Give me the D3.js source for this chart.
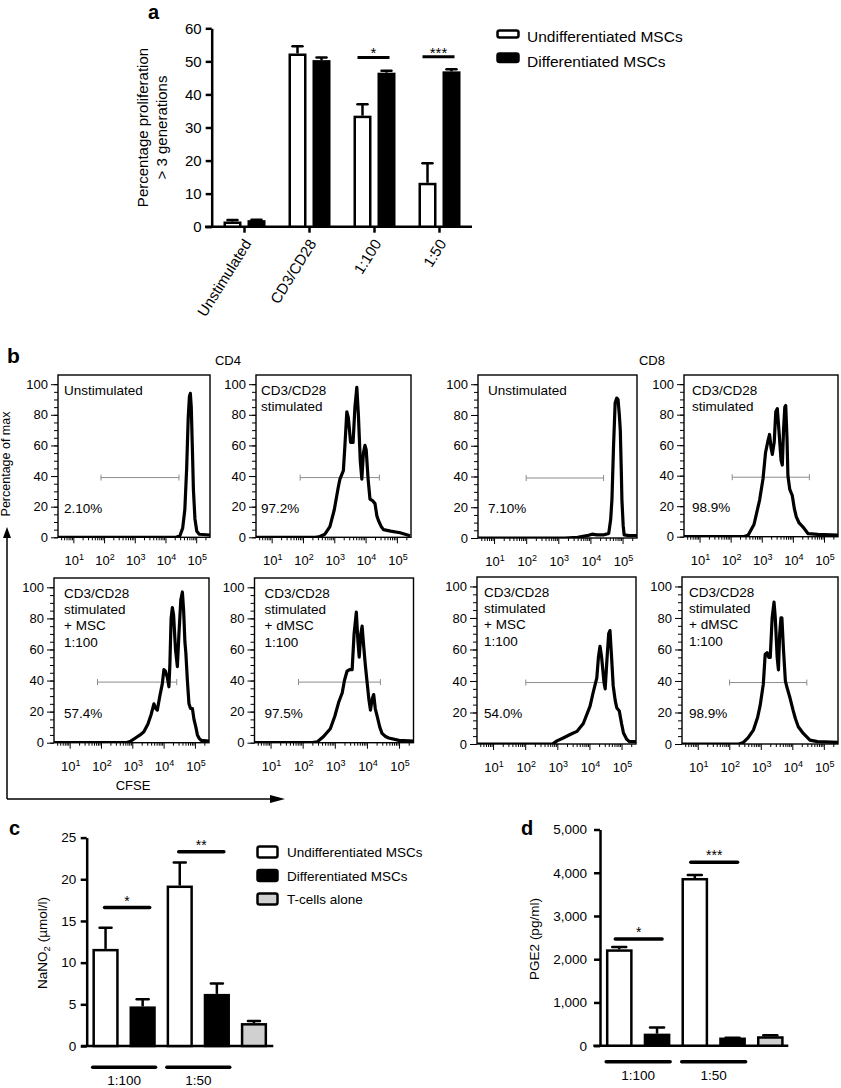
<!DOCTYPE html>
<html><head><meta charset="utf-8">
<script src="https://cdn.jsdelivr.net/npm/d3@7"></script>
<style>body{margin:0;background:#fff} svg{display:block} text{font-family:"Liberation Sans",Arial,Helvetica,sans-serif;fill:#000}</style>
</head><body><svg id="chart" width="841" height="1088"></svg>
<script>
// ---------------- DATA ----------------
// Panel a
const catsA = ["Unstimulated", "CD3/CD28", "1:100", "1:50"];
const seriesA = ["Undifferentiated MSCs", "Differentiated MSCs"];
const undiffA = [1.2, 52.0, 33.2, 12.9];
const undiffErrA = [0.8, 2.6, 3.8, 6.3];
const diffA = [1.6, 50.0, 46.2, 46.6];
const diffErrA = [0.5, 1.2, 1.0, 1.0];
const ticksA = [0, 10, 20, 30, 40, 50, 60];
const sigA = [{cat: "1:100", label: "*", y: 51.2}, {cat: "1:50", label: "***", y: 51.4}];

// Panel b (x in log10 CFSE units, y in % of max)
const histCD4Unstim = [[0.5,0],[4.35,0],[4.47,1],[4.56,6],[4.63,18],[4.69,45],[4.74,78],[4.78,92],[4.81,94],[4.84,85],[4.88,55],[4.91,31],[4.96,12],[5.02,4],[5.1,2],[5.45,1.5]];
const histCD4Stim = [[0.5,0],[2.4,0],[2.54,0.5],[2.7,2],[2.86,7],[3.0,18],[3.13,33],[3.18,38],[3.29,43.5],[3.34,60],[3.40,82],[3.45,78],[3.52,62],[3.60,62],[3.66,85],[3.72,98],[3.77,80],[3.83,50],[3.88,38],[3.93,55],[3.98,60],[4.02,57],[4.08,38],[4.14,25],[4.22,24],[4.30,22],[4.36,14],[4.41,11],[4.5,7],[4.57,5],[4.8,4],[5.1,3],[5.42,1]];
const histCD8Unstim = [[0.5,0],[3.2,0],[3.6,0.5],[3.9,1.5],[4.05,2.5],[4.2,2],[4.4,2],[4.57,3],[4.63,12],[4.67,25],[4.72,60],[4.77,88],[4.82,91],[4.86,90],[4.9,80],[4.93,70],[4.96,45],[4.98,25],[5.02,8],[5.05,2],[5.2,1.5],[5.45,1.5]];
const histCD8Stim = [[0.5,0],[2.4,0],[2.56,1],[2.75,8],[2.93,24],[3.04,38],[3.12,55],[3.2,63],[3.25,67],[3.3,58],[3.34,54],[3.4,62],[3.45,82],[3.50,84],[3.55,70],[3.62,50],[3.66,47],[3.7,70],[3.74,85],[3.77,86],[3.81,65],[3.84,40],[3.9,31],[3.98,27],[4.05,18],[4.11,13],[4.2,9],[4.32,6.5],[4.49,2],[4.8,1.5],[5.45,1]];
const histCD4MSC = [[0.5,0],[2.8,0],[2.95,1],[3.1,3],[3.25,5],[3.37,7],[3.5,12],[3.6,18],[3.69,25],[3.75,22],[3.8,21],[3.88,30],[3.96,38],[4.01,47],[4.06,46],[4.12,42],[4.17,36],[4.2,50],[4.24,80],[4.28,87],[4.32,82],[4.38,60],[4.44,49],[4.49,70],[4.55,92],[4.60,97],[4.64,85],[4.68,65],[4.71,58],[4.76,40],[4.81,25],[4.86,22],[4.92,22],[4.97,15],[5.03,10],[5.08,5],[5.13,3],[5.2,1.5],[5.45,1]];
const histCD4dMSC = [[0.5,0],[2.3,0],[2.45,0.5],[2.65,4],[2.86,9],[3.0,17],[3.12,26],[3.23,32],[3.3,40],[3.38,46],[3.46,47],[3.54,47],[3.6,70],[3.67,84],[3.72,65],[3.76,55],[3.81,70],[3.85,75],[3.9,62],[3.95,50],[4.01,38],[4.06,28],[4.11,21],[4.16,28],[4.21,31],[4.26,22],[4.32,17],[4.4,10],[4.47,6],[4.58,4],[4.68,3],[5.0,1.5],[5.45,1]];
const histCD8MSC = [[0.5,0],[2.85,0],[2.99,2],[3.2,4],[3.4,6],[3.61,8],[3.81,13],[4.02,24],[4.12,33],[4.23,42],[4.28,55],[4.33,62],[4.38,55],[4.45,40],[4.49,35],[4.55,55],[4.6,70],[4.64,72],[4.69,55],[4.74,37],[4.8,28],[4.85,23],[4.93,21],[5.0,13],[5.06,7],[5.16,3],[5.25,1.5],[5.45,1.5]];
const histCD8dMSC = [[0.5,0],[2.3,0],[2.45,1],[2.6,4],[2.77,9],[2.9,17],[2.98,24.5],[3.08,38],[3.14,57],[3.2,58],[3.25,55],[3.3,55],[3.36,80],[3.42,90],[3.46,80],[3.52,55],[3.56,47],[3.6,70],[3.64,80],[3.67,80],[3.72,60],[3.78,40],[3.83,36],[3.93,29],[4.03,21],[4.1,16],[4.19,11],[4.35,6.7],[4.56,2.5],[4.8,1.5],[5.45,1]];
const histTitles = [["Unstimulated"], ["CD3/CD28", "stimulated"], ["Unstimulated"], ["CD3/CD28", "stimulated"],
  ["CD3/CD28", "stimulated", "+ MSC", "1:100"], ["CD3/CD28", "stimulated", "+ dMSC", "1:100"],
  ["CD3/CD28", "stimulated", "+ MSC", "1:100"], ["CD3/CD28", "stimulated", "+ dMSC", "1:100"]];
const histPercents = ["2.10%", "97.2%", "7.10%", "98.9%", "57.4%", "97.5%", "54.0%", "98.9%"];
const histGates = [[1.9,4.44],[1.91,4.44],[2.0,4.41],[2.05,4.53],[1.89,4.42],[1.87,4.42],[2.02,4.43],[2.01,4.46]];
const histGateLevel = 39;
const histYTicks = [0, 20, 40, 60, 80, 100];
const histXExp = [1, 2, 3, 4, 5];
const columnTitles = ["CD4", "CD8"];

// Panel c
const groupsC = ["1:100", "1:50"];
const seriesC = ["Undifferentiated MSCs", "Differentiated MSCs", "T-cells alone"];
const undiffC = [11.5, 19.1];
const undiffErrC = [2.7, 2.9];
const diffC = [4.6, 6.1];
const diffErrC = [1.0, 1.4];
const tcellC = 2.6;
const tcellErrC = 0.4;
const ticksC = [0, 5, 10, 15, 20, 25];
const sigC = [{label: "*", y: 16.6}, {label: "**", y: 23.3}];

// Panel d
const groupsD = ["1:100", "1:50"];
const undiffD = [2200, 3850];
const undiffErrD = [85, 100];
const diffD = [250, 160];
const diffErrD = [170, 25];
const tcellD = 190;
const tcellErrD = 50;
const ticksD = [0, 1000, 2000, 3000, 4000, 5000];
const sigD = [{label: "*", y: 2470}, {label: "***", y: 4240}];

// ---------------- DRAWING ----------------
const FONT = '"Liberation Sans", Arial, Helvetica, sans-serif';
const svg = d3.select("#chart");
svg.append("rect").attr("width", 841).attr("height", 1088).attr("fill", "#fff");

function styleAxis(g, fs, sw) {
  g.attr("font-family", FONT).attr("font-size", fs);
  g.selectAll(".domain").attr("stroke", "#000").attr("stroke-width", sw);
  g.selectAll(".tick line").attr("stroke", "#000").attr("stroke-width", sw);
  g.selectAll(".tick text").attr("fill", "#000");
}
function drawBar(g, x0, w, y, v, e, fill, sw, cap) {
  g.append("rect").attr("x", x0).attr("y", y(v)).attr("width", w).attr("height", y(0) - y(v))
    .attr("fill", fill).attr("stroke", "#000").attr("stroke-width", sw);
  const cx = x0 + w / 2;
  g.append("line").attr("x1", cx).attr("x2", cx).attr("y1", y(v) - sw / 2).attr("y2", y(v + e))
    .attr("stroke", "#000").attr("stroke-width", sw);
  g.append("line").attr("x1", cx - cap / 2).attr("x2", cx + cap / 2).attr("y1", y(v + e)).attr("y2", y(v + e))
    .attr("stroke", "#000").attr("stroke-width", sw).attr("stroke-linecap", "round");
}
function panelLabel(t, x, y, fs) {
  svg.append("text").attr("x", x).attr("y", y).attr("font-size", fs).attr("font-weight", "bold").text(t);
}

// ===== Panel a =====
(function () {
  const g = svg.append("g");
  const y = d3.scaleLinear().domain([0, 60]).range([226.7, 28.3]);
  const x = d3.scaleBand().domain(catsA).range([212, 472]);
  const xi = d3.scaleBand().domain(seriesA).range([-24, 24]).paddingInner(0.354).paddingOuter(0.177);
  const ya = g.append("g").attr("transform", "translate(211.7,0)")
    .call(d3.axisLeft(y).tickValues(ticksA).tickSize(6).tickSizeOuter(0).tickPadding(4));
  styleAxis(ya, 15, 2.5);
  const xa = g.append("g").attr("transform", "translate(0,226.7)")
    .call(d3.axisBottom(x).tickSize(6).tickSizeOuter(0));
  styleAxis(xa, 15, 2.5);
  xa.select(".domain").attr("d", "M205,0H472");
  xa.selectAll(".tick text").attr("x", 0).attr("y", 0).attr("dy", "0.35em")
    .attr("transform", "translate(3,14) rotate(-58)").style("text-anchor", "end");

  catsA.forEach((c, i) => {
    const cx = x(c) + x.bandwidth() / 2;
    drawBar(g, cx + xi(seriesA[0]), xi.bandwidth(), y, undiffA[i], undiffErrA[i], "#fff", 2.5, 10);
    drawBar(g, cx + xi(seriesA[1]), xi.bandwidth(), y, diffA[i], diffErrA[i], "#000", 2.5, 10);
  });
  sigA.forEach(s => {
    const cx = x(s.cat) + x.bandwidth() / 2;
    g.append("line").attr("x1", cx - 17).attr("x2", cx + 15).attr("y1", y(s.y)).attr("y2", y(s.y))
      .attr("stroke", "#000").attr("stroke-width", 3);
    g.append("text").attr("x", cx - 1).attr("y", y(s.y) + 1).attr("text-anchor", "middle")
      .attr("font-size", 15).text(s.label);
  });
  // y label
  const yl = g.append("text").attr("transform", "translate(147.5,127.5) rotate(-90)").attr("text-anchor", "middle").attr("font-size", 15);
  yl.append("tspan").attr("x", 0).attr("y", 0).text("Percentage proliferation");
  yl.append("tspan").attr("x", 0).attr("y", 19).text("> 3 generations");
  // legend
  const leg = g.append("g");
  seriesA.forEach((s, i) => {
    leg.append("rect").attr("x", 497.5).attr("y", i === 0 ? 30.5 : 53.5).attr("width", 21).attr("height", i === 0 ? 7 : 8.5)
      .attr("rx", 2).attr("fill", i === 0 ? "#fff" : "#000").attr("stroke", "#000").attr("stroke-width", 2.5);
    leg.append("text").attr("x", 527).attr("y", i === 0 ? 42 : 67).attr("font-size", 15.5).text(s);
  });
  panelLabel("a", 148, 19, 20);
})();

// ===== Panel b =====
(function () {
  panelLabel("b", 7, 363, 21);
  svg.append("text").attr("x", 228).attr("y", 365).attr("text-anchor", "middle").attr("font-size", 13).text(columnTitles[0]);
  svg.append("text").attr("x", 652).attr("y", 365).attr("text-anchor", "middle").attr("font-size", 13).text(columnTitles[1]);
  const datasets = [histCD4Unstim, histCD4Stim, histCD8Unstim, histCD8Stim, histCD4MSC, histCD4dMSC, histCD8MSC, histCD8dMSC];
  const layout = [
    {x: 58, y: 375, w: 152, h: 162.3, tx: 6},
    {x: 256, y: 375, w: 155, h: 162.3, tx: 5},
    {x: 478, y: 375, w: 159, h: 163, tx: 10},
    {x: 684, y: 375, w: 154, h: 161.7, tx: 8},
    {x: 54, y: 578, w: 155, h: 164.7, tx: 10},
    {x: 254.5, y: 578, w: 159, h: 164.7, tx: 10},
    {x: 477, y: 577, w: 159, h: 167, tx: 7},
    {x: 682, y: 577, w: 156, h: 167, tx: 7}
  ];
  const defs = svg.append("defs");
  datasets.forEach((data, i) => {
    const L = layout[i];
    const g = svg.append("g");
    const xs = d3.scaleLog().domain([Math.pow(10, 0.5), Math.pow(10, 5.45)]).range([L.x, L.x + L.w]);
    const ys = d3.scaleLinear().domain([0, 106]).range([L.y + L.h, L.y]);
    defs.append("clipPath").attr("id", "clip" + i).append("rect")
      .attr("x", L.x).attr("y", L.y).attr("width", L.w).attr("height", L.h);
    const yMinor = g.append("g").attr("transform", `translate(${L.x},0)`)
      .call(d3.axisLeft(ys).tickValues(d3.range(0, 101, 5)).tickSize(4).tickFormat(""));
    styleAxis(yMinor, 13, 1); yMinor.select(".domain").remove();
    const yMajor = g.append("g").attr("transform", `translate(${L.x},0)`)
      .call(d3.axisLeft(ys).tickValues(histYTicks).tickSize(7).tickPadding(3));
    styleAxis(yMajor, 13, 1); yMajor.select(".domain").remove();
    const minorVals = xs.ticks().filter(v => Math.abs(Math.log10(v) - Math.round(Math.log10(v))) > 1e-6);
    const xMinor = g.append("g").attr("transform", `translate(0,${L.y + L.h})`)
      .call(d3.axisBottom(xs).tickValues(minorVals).tickSize(3).tickFormat(""));
    styleAxis(xMinor, 13, 1); xMinor.select(".domain").remove();
    const xMajor = g.append("g").attr("transform", `translate(0,${L.y + L.h})`)
      .call(d3.axisBottom(xs).tickValues(histXExp.map(e => Math.pow(10, e))).tickSize(6).tickFormat(""));
    styleAxis(xMajor, 13, 1); xMajor.select(".domain").remove();
    histXExp.forEach(e => {
      const t = g.append("text").attr("x", xs(Math.pow(10, e)) + 1).attr("y", L.y + L.h + 28)
        .attr("text-anchor", "middle").attr("font-size", 13);
      t.append("tspan").text("10");
      t.append("tspan").attr("dy", -5).attr("font-size", 9).text(e);
    });
    g.append("rect").attr("x", L.x).attr("y", L.y).attr("width", L.w).attr("height", L.h)
      .attr("fill", "none").attr("stroke", "#000").attr("stroke-width", 1.4);
    const gy = ys(histGateLevel), gx1 = xs(Math.pow(10, histGates[i][0])), gx2 = xs(Math.pow(10, histGates[i][1]));
    g.append("line").attr("x1", gx1).attr("x2", gx2).attr("y1", gy).attr("y2", gy).attr("stroke", "#8c8c8c").attr("stroke-width", 1);
    [gx1, gx2].forEach(gx => g.append("line").attr("x1", gx).attr("x2", gx).attr("y1", gy - 3).attr("y2", gy + 3)
      .attr("stroke", "#8c8c8c").attr("stroke-width", 1));
    const line = d3.line().x(d => xs(Math.pow(10, d[0]))).y(d => ys(d[1]));
    g.append("path").attr("d", line(data)).attr("fill", "none").attr("stroke", "#000")
      .attr("stroke-width", 3.2).attr("stroke-linejoin", "round").attr("clip-path", `url(#clip${i})`);
    histTitles[i].forEach((s, k) => g.append("text").attr("x", L.x + L.tx).attr("y", L.y + 19.5 + k * 16.4)
      .attr("font-size", 13.5).text(s));
    g.append("text").attr("x", L.x + L.tx).attr("y", ys(20) + 6).attr("font-size", 13.5).text(histPercents[i]);
  });
  svg.append("path").attr("d", "M7,799V536 M7,799H272").attr("fill", "none").attr("stroke", "#000").attr("stroke-width", 1.5);
  svg.append("path").attr("d", "M3,538 L7,527 L11,538 Z").attr("fill", "#000");
  svg.append("path").attr("d", "M270,795 L285,799 L270,803 Z").attr("fill", "#000");
  svg.append("text").attr("transform", "translate(10,464) rotate(-90)").attr("text-anchor", "middle")
    .attr("font-size", 12.5).text("Percentage of max");
  svg.append("text").attr("x", 133).attr("y", 790).attr("text-anchor", "middle").attr("font-size", 13).text("CFSE");
})();

// ===== Panel c & d shared drawer =====
function drawGroupedPanel(cfg) {
  const g = svg.append("g");
  const y = d3.scaleLinear().domain(cfg.domain).range(cfg.yRange);
  const keys = ["u0", "d0", "u1", "d1", "t"];
  const x = d3.scaleBand().domain(keys).range(cfg.xRange).paddingInner(cfg.pi).paddingOuter(cfg.pi / 2);
  const ya = g.append("g").attr("transform", `translate(${cfg.axisX},0)`)
    .call(d3.axisLeft(y).tickValues(cfg.ticks).tickSize(6).tickSizeOuter(0).tickPadding(cfg.pad).tickFormat(cfg.fmt));
  styleAxis(ya, 13.5, 2.5);
  g.append("line").attr("x1", cfg.xAxis[0]).attr("x2", cfg.xAxis[1]).attr("y1", y(0)).attr("y2", y(0))
    .attr("stroke", "#000").attr("stroke-width", 2.5);
  const bw = x.bandwidth();
  [0, 1].forEach(k => {
    drawBar(g, x("u" + k), bw, y, cfg.u[k], cfg.ue[k], "#fff", 2.5, cfg.cap);
    drawBar(g, x("d" + k), bw, y, cfg.d[k], cfg.de[k], "#000", 2.5, cfg.cap);
    const s = cfg.sig[k];
    const xa = x("u" + k) + bw / 2 + cfg.sigOff[0], xb = x("d" + k) + bw / 2 + cfg.sigOff[1];
    g.append("line").attr("x1", xa).attr("x2", xb).attr("y1", y(s.y)).attr("y2", y(s.y))
      .attr("stroke", "#000").attr("stroke-width", 3.5).attr("stroke-linecap", "round");
    g.append("text").attr("x", (xa + xb) / 2).attr("y", y(s.y) - 2).attr("text-anchor", "middle")
      .attr("font-size", 14).text(s.label);
    const gx1 = x("u" + k) - 1, gx2 = x("d" + k) + bw + 1;
    g.append("line").attr("x1", gx1).attr("x2", gx2).attr("y1", cfg.groupY).attr("y2", cfg.groupY)
      .attr("stroke", "#000").attr("stroke-width", 3.5).attr("stroke-linecap", "round");
    g.append("text").attr("x", (gx1 + gx2) / 2).attr("y", cfg.groupY + 18).attr("text-anchor", "middle")
      .attr("font-size", 13.5).text(cfg.groups[k]);
  });
  drawBar(g, x("t"), bw, y, cfg.t, cfg.te, "#d0d0d0", 2.5, cfg.cap);
  g.append("text").attr("transform", `translate(${cfg.labelX},${cfg.labelY}) rotate(-90)`)
    .attr("text-anchor", "middle").attr("font-size", 13.5).call(cfg.label);
  return {g, x, y};
}

// ===== Panel c =====
(function () {
  drawGroupedPanel({
    domain: [0, 25], yRange: [1046, 837.6], xRange: [87, 272.5], pi: 0.36, axisX: 86.7, pad: 4.5,
    ticks: ticksC, fmt: d3.format("d"), xAxis: [81, 273.3], u: undiffC, ue: undiffErrC, d: diffC, de: diffErrC,
    t: tcellC, te: tcellErrC, cap: 12, sig: sigC, sigOff: [-1, 7], groupY: 1067.3, groups: groupsC,
    labelX: 47, labelY: 943,
    label: t => { t.append("tspan").text("NaNO"); t.append("tspan").attr("font-size", 9.5).attr("dy", 3).text("2");
      t.append("tspan").attr("dy", -3).text(" (\u00b5mol/l)"); }
  });
  panelLabel("c", 9, 835, 20);
  const fills = ["#fff", "#000", "#d0d0d0"];
  const legY = [852, 875.5, 899];
  seriesC.forEach((s, i) => {
    svg.append("rect").attr("x", 257.5).attr("y", legY[i] - 5.5).attr("width", 20).attr("height", 11).attr("rx", 2)
      .attr("fill", fills[i]).attr("stroke", "#000").attr("stroke-width", 2.5);
    svg.append("text").attr("x", 287).attr("y", legY[i] + 5).attr("font-size", 13.5).text(s);
  });
})();

// ===== Panel d =====
(function () {
  drawGroupedPanel({
    domain: [0, 5000], yRange: [1045.7, 829.5], xRange: [600.4, 789.2], pi: 0.36, axisX: 600, pad: 7,
    ticks: ticksD, fmt: d3.format(","), xAxis: [593.3, 788.3], u: undiffD, ue: undiffErrD, d: diffD, de: diffErrD,
    t: tcellD, te: tcellErrD, cap: 14, sig: sigD, sigOff: [-4, 5], groupY: 1061.7, groups: groupsD,
    labelX: 538.5, labelY: 939,
    label: t => t.text("PGE2 (pg/ml)")
  });
  panelLabel("d", 521, 835, 20);
})();
</script></body></html>
